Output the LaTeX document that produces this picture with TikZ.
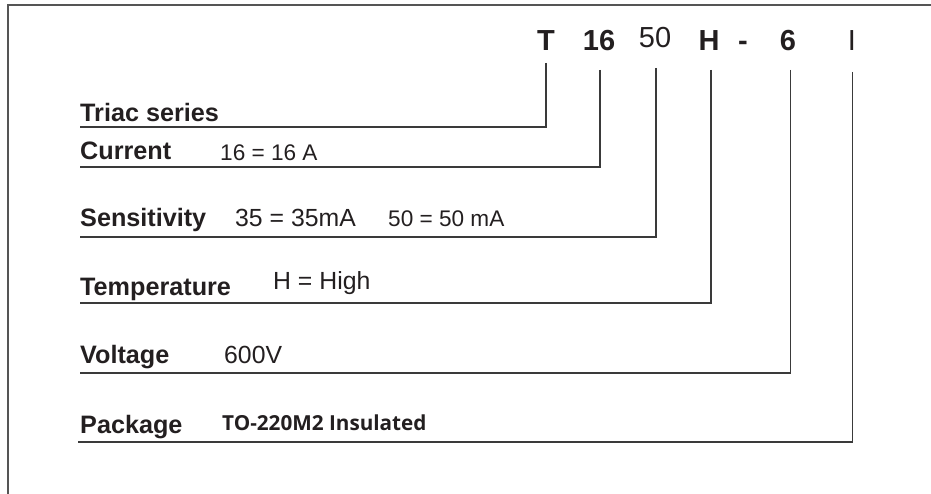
\documentclass[tikz,border=0pt]{standalone}
\usepackage{fontspec}
\setmainfont{Liberation Sans}
\newfontfamily\pkgfont{Open Sans}
\definecolor{ink}{HTML}{231F20}
\definecolor{rulecol}{HTML}{3A3A3A}
\definecolor{framecol}{HTML}{555555}
\begin{document}
\begin{tikzpicture}[x=1pt,y=-1pt,
  lbl/.style={anchor=base west, inner sep=0pt, font=\bfseries\fontsize{25.2}{26}\selectfont, text=ink},
  val/.style={anchor=base west, inner sep=0pt, font=\fontsize{24.8}{25}\selectfont, text=ink},
  sval/.style={anchor=base west, inner sep=0pt, font=\fontsize{22.6}{23}\selectfont, text=ink},
  pkgval/.style={anchor=base west, inner sep=0pt, font=\pkgfont\bfseries\fontsize{20.7}{21}\selectfont, text=ink},
  code/.style={anchor=base, inner sep=0pt, font=\bfseries\fontsize{29}{29}\selectfont, text=ink},
  codereg/.style={anchor=base, inner sep=0pt, font=\fontsize{29}{29}\selectfont, text=ink},
  conn/.style={draw=rulecol, line width=1.4pt},
  frameline/.style={draw=framecol, line width=2pt}]
\useasboundingbox (0,0) rectangle (931,494);
% frame (only top and left edges visible)
\coordinate (fBL) at (8,494);
\coordinate (fTL) at (8,5);
\coordinate (fTR) at (931,5);
\draw[frameline] (fBL) -- (fTL) -- (fTR);
% code letters
\node[code]    (cT)  at (546,51) {T};
\node[code]    (c16) at (599,51) {16};
\node[codereg] (c50) at (655,48) {50};
\node[code]    (cH)  at (709,51) {H};
\node[code]    (cD)  at (743,51) {-};
\node[code]    (c6)  at (788,51) {6};
\node[codereg] (cI)  at (852,51) {I};
% top ends of connectors
\coordinate (tT)  at (546,63);
\coordinate (t16) at (600,70);
\coordinate (t50) at (656,68);
\coordinate (tH)  at (711,70);
\coordinate (t6)  at (790.5,70);
\coordinate (tI)  at (852.5,72);
% left ends of connectors
\coordinate (sTriac) at (80,127);
\coordinate (sCur)   at (80,167);
\coordinate (sSens)  at (80,237);
\coordinate (sTemp)  at (80,303);
\coordinate (sVolt)  at (80,373);
\coordinate (sPack)  at (78,442);
% labels
\node[lbl] (lTriac) at (80,122) {Triac series};
\node[lbl] (lCur)   at (80,160) {Current};
\node[sval] (vCur)  at (220,160.5) {16 = 16 A};
\node[lbl] (lSens)  at (80,226.5) {Sensitivity};
\node[val] (vSens1) at (235,226.5) {35 = 35mA};
\node[sval] (vSens2) at (388,226.5) {50 = 50 mA};
\node[lbl] (lTemp)  at (80,295) {Temperature};
\node[val] (vTemp)  at (273,290) {H = High};
\node[lbl] (lVolt)  at (80,363) {Voltage};
\node[val] (vVolt)  at (224,363) {600V};
\node[lbl] (lPack)  at (80,433) {Package};
\node[pkgval] (vPack) at (222,430) {TO-220M2 Insulated};
% connectors
\draw[conn] (tT)  |- (sTriac);
\draw[conn] (t16) |- (sCur);
\draw[conn] (t50) |- (sSens);
\draw[conn] (tH)  |- (sTemp);
\draw[conn] (t6)  |- (sVolt);
\draw[conn] (tI)  |- (sPack);
\end{tikzpicture}
\end{document}
